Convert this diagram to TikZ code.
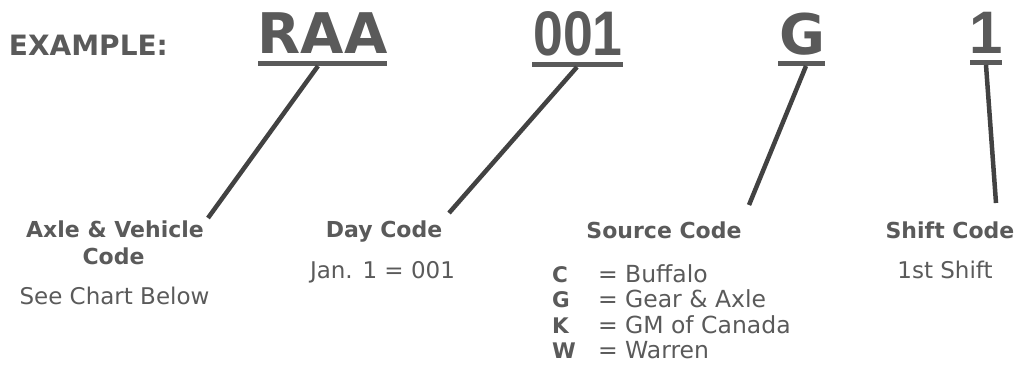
\documentclass[tikz,border=0pt]{standalone}
\usepackage{fontspec}
\usepackage{graphicx}
\setmainfont{DejaVu Sans}
\newfontfamily\dvfont{DejaVu Sans}
\newfontfamily\numfont{Liberation Sans}
\definecolor{ink}{HTML}{5A5A5A}
\definecolor{lineink}{HTML}{424242}
\begin{document}
\begin{tikzpicture}[x=1pt,y=-1pt,
  every node/.style={inner sep=0pt, outer sep=0pt, text=ink},
  exstyle/.style={font={\dvfont\bfseries\fontsize{28pt}{28pt}\selectfont}, anchor=base west},
  bigcode/.style={font={\dvfont\bfseries\fontsize{56pt}{56pt}\selectfont}, anchor=base},
  bignum/.style={font={\numfont\bfseries\fontsize{63pt}{63pt}\selectfont}, anchor=base},
  ulbar/.style={fill=ink, minimum height=5pt},
  conn/.style={draw=lineink, line width=4.5pt},
  headlab/.style={font={\dvfont\bfseries\fontsize{22pt}{22pt}\selectfont}, anchor=base},
  sublab/.style={font={\dvfont\fontsize{23pt}{23pt}\selectfont}, anchor=base},
  keylet/.style={font={\dvfont\bfseries\fontsize{21.5pt}{21.5pt}\selectfont}, anchor=base west},
  keyval/.style={font={\dvfont\fontsize{23.5pt}{23.5pt}\selectfont}, anchor=base west}
]
\useasboundingbox (0,0) rectangle (1025,364);

% top line
\node[exstyle] (ex) at (9,55) {EXAMPLE:};
\node[bigcode] (raa) at (322.5,53) {RAA};
\node[bignum] (n001) at (578,55) {\scalebox{0.85}[1]{001}};
\node[bigcode] (g) at (802,54) {G};
\node[bignum, font={\numfont\bfseries\fontsize{60pt}{60pt}\selectfont}] (one) at (986,53) {1};

% underlines
\node[ulbar, minimum width=129pt] (raaul) at (322.5,63.5) {};
\node[ulbar, minimum width=91pt] (n001ul) at (577.5,64.5) {};
\node[ulbar, minimum width=47pt] (gul) at (801.5,63.5) {};
\node[ulbar, minimum width=32pt] (oneul) at (986,62.5) {};

% connector ends
\coordinate (raaS) at (318,66);
\coordinate (n001S) at (577,67);
\coordinate (gS) at (806,66);
\coordinate (oneS) at (986,65);
\coordinate (axleE) at (208,218);
\coordinate (dayE) at (449,213);
\coordinate (srcE) at (749,205);
\coordinate (shiftE) at (996,203);

\draw[conn] (raaS) -- (axleE);
\draw[conn] (n001S) -- (dayE);
\draw[conn] (gS) -- (srcE);
\draw[conn] (oneS) -- (shiftE);

% labels
\node[headlab] (axle1) at (115,237) {Axle \& Vehicle};
\node[headlab] (axle2) at (113.5,264.5) {Code};
\node[sublab] (axle3) at (114.5,304) {See Chart Below};

\node[headlab] (day1) at (384,237) {Day Code};
\node[sublab] (day2) at (382.5,278) {Jan. 1 = 001};

\node[headlab] (src1) at (664,238) {Source Code};

\node[keylet] (kc) at (552,282) {C};
\node[keyval] (vc) at (598,282) {= Buffalo};
\node[keylet] (kg) at (552,307.5) {G};
\node[keyval] (vg) at (598,307.5) {= Gear \& Axle};
\node[keylet] (kk) at (552,333) {K};
\node[keyval] (vk) at (598,333) {= GM of Canada};
\node[keylet] (kw) at (552,358) {W};
\node[keyval] (vw) at (598,358) {= Warren};

\node[headlab] (shift1) at (950,238) {Shift Code};
\node[sublab] (shift2) at (945,278) {1st Shift};
\end{tikzpicture}
\end{document}
